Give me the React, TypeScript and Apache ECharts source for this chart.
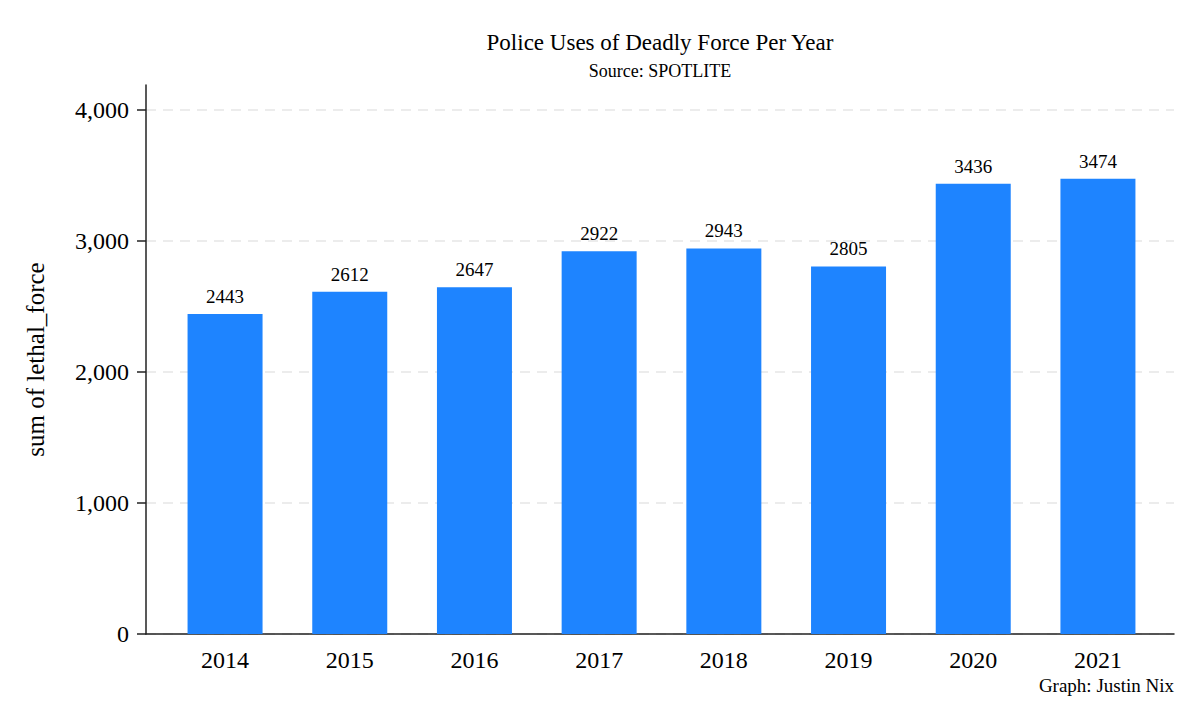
import React, { useEffect, useRef } from 'react';
import * as echarts from 'echarts';

const years = [2014, 2015, 2016, 2017, 2018, 2019, 2020, 2021];
const lethalForce = [2443, 2612, 2647, 2922, 2943, 2805, 3436, 3474];
const yTicks = [0, 1000, 2000, 3000, 4000];

const SERIF = '"Liberation Serif", "Times New Roman", serif';

const App: React.FC = () => {
  const chartRef = useRef<HTMLDivElement>(null);

  useEffect(() => {
    if (!chartRef.current) return;
    const chart = echarts.init(chartRef.current, undefined, { renderer: 'svg' });

    const option: any = {
      animation: false,
      backgroundColor: '#ffffff',
      textStyle: { fontFamily: SERIF },
      grid: { left: 146, right: 26, top: 85, bottom: 86 },
      graphic: [
        {
          type: 'text',
          x: 660,
          y: 42,
          style: {
            text: 'Police Uses of Deadly Force Per Year',
            fontFamily: SERIF,
            fontSize: 23,
            fill: '#000',
            textAlign: 'center',
            textVerticalAlign: 'middle',
          },
        },
        {
          type: 'text',
          x: 660,
          y: 71,
          style: {
            text: 'Source: SPOTLITE',
            fontFamily: SERIF,
            fontSize: 18,
            fill: '#000',
            textAlign: 'center',
            textVerticalAlign: 'middle',
          },
        },
        {
          type: 'text',
          x: 1174,
          y: 685,
          style: {
            text: 'Graph: Justin Nix',
            fontFamily: SERIF,
            fontSize: 19,
            fill: '#000',
            textAlign: 'right',
            textVerticalAlign: 'middle',
          },
        },
      ],
      xAxis: {
        type: 'value',
        min: 2013.366,
        max: 2021.61,
        axisLine: { show: true, lineStyle: { color: '#222', width: 1.5 } },
        axisTick: { show: false },
        splitLine: { show: false },
        axisLabel: {
          customValues: years,
          formatter: (v: number) => String(Math.round(v)),
          fontFamily: SERIF,
          fontSize: 24,
          color: '#000',
          margin: 14,
        },
      },
      yAxis: {
        type: 'value',
        min: 0,
        max: 4190,
        name: 'sum of lethal_force',
        nameLocation: 'middle',
        nameGap: 98,
        nameTextStyle: { fontFamily: SERIF, fontSize: 25, color: '#000' },
        axisLine: { show: true, lineStyle: { color: '#222', width: 1.5 } },
        axisTick: {
          show: true,
          length: 9,
          customValues: yTicks,
          lineStyle: { color: '#222', width: 1.5 },
        },
        axisLabel: {
          customValues: yTicks,
          formatter: (v: number) => v.toLocaleString('en-US'),
          fontFamily: SERIF,
          fontSize: 24,
          color: '#000',
          margin: 17,
        },
        splitLine: {
          show: true,
          lineStyle: { color: '#e6e6e6', width: 1.5, type: [10, 7] },
        },
      },
      series: [
        {
          type: 'bar',
          barWidth: 75,
          data: years.map((y, i) => [y, lethalForce[i]]),
          itemStyle: { color: '#1e84ff' },
          label: {
            show: true,
            position: 'top',
            distance: 8,
            fontFamily: SERIF,
            fontSize: 19,
            color: '#000',
            formatter: (p: any) => String(p.value[1]),
          },
        },
      ],
    };

    chart.setOption(option);
    return () => chart.dispose();
  }, []);

  return (
    <div
      ref={chartRef}
      style={{ position: 'fixed', left: 0, top: 0, width: 1200, height: 720 }}
    />
  );
};

export default App;
